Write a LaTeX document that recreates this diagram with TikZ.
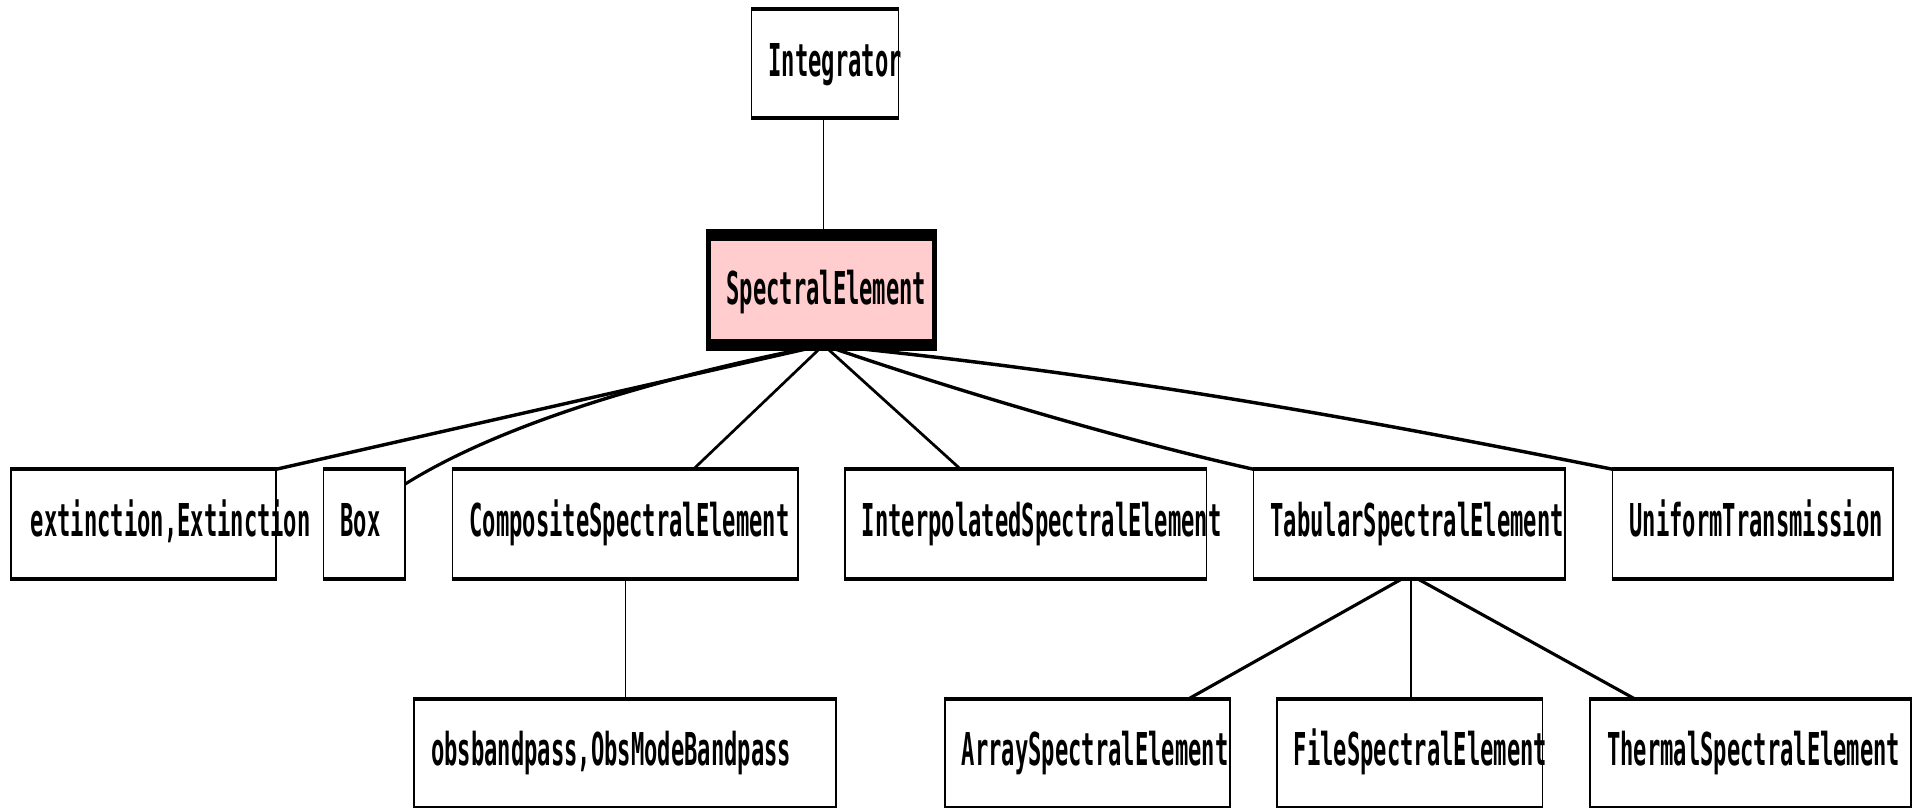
\documentclass[tikz,border=0pt]{standalone}
\usepackage{fontspec}
\usepackage{graphicx}
\usetikzlibrary{calc}
\newfontfamily\classfont{DejaVu Sans Mono}
\definecolor{focuspink}{RGB}{255,205,205}
% class label: fixed-width box, text starts after a small pad and may run past the border
\newcommand\boxlabel[3][17]{\makebox[#2pt][l]{\hspace{#1pt}\scalebox{1.223}[1]{#3}}}
\tikzset{
  cls/.style={rectangle, draw=black, fill=white, line width=1.6pt,
    inner sep=0pt, outer sep=0pt, minimum height=44pt,
    text height=10pt, text depth=0pt,
    font=\classfont\bfseries\fontsize{18.1pt}{20pt}\selectfont},
  focus/.style={cls, fill=focuspink, line width=4.8pt, text height=12pt},
  link/.style={draw=black, line width=1.4pt},
}
\begin{document}
\begin{tikzpicture}
\path[use as bounding box, fill=white] (0pt,0pt) rectangle (1915pt,-808pt);
% the whole diagram is drawn squashed and then stretched vertically
\begin{scope}[transform canvas={yscale=2.5}, x=1pt, y=-0.4pt]
  % top
  \node[cls, minimum width=147pt, minimum height=43.8pt] (integ) at (825,63.75) {\boxlabel{147}{Integrator}};
  \node[focus, minimum width=226.2pt] (spec) at (821.5,290) {\boxlabel[18]{226.2}{SpectralElement}};
  % subclasses
  \node[cls, minimum width=265.4pt] (ext)    at (143.5,524.25)  {\boxlabel[20]{265.4}{extinction,Extinction}};
  \node[cls, minimum width=81.4pt]  (boxcls) at (364.2,524.25)  {\boxlabel{81.4}{Box}};
  \node[cls, minimum width=345.7pt] (comp)   at (625.35,524.25) {\boxlabel{345.7}{CompositeSpectralElement}};
  \node[cls, minimum width=361.7pt] (interp) at (1025.65,524.25) {\boxlabel{361.7}{InterpolatedSpectralElement}};
  \node[cls, minimum width=311.7pt] (tab)    at (1409.35,524.25) {\boxlabel{311.7}{TabularSpectralElement}};
  \node[cls, minimum width=280.4pt] (unif)   at (1752.7,524.25) {\boxlabel{280.4}{UniformTransmission}};
  % third level
  \node[cls, minimum width=422pt,   minimum height=43.6pt] (obs)   at (625.2,753.5)  {\boxlabel{422}{obsbandpass,ObsModeBandpass}};
  \node[cls, minimum width=285pt,   minimum height=43.6pt] (arr)   at (1087.3,753.5) {\boxlabel{285}{ArraySpectralElement}};
  \node[cls, minimum width=265.7pt, minimum height=43.6pt] (file)  at (1409.65,753.5) {\boxlabel{265.7}{FileSpectralElement}};
  \node[cls, minimum width=320.6pt, minimum height=43.6pt] (therm) at (1750.4,753.5) {\boxlabel{320.6}{ThermalSpectralElement}};

  % connectors
  \coordinate (integfoot) at ($(integ.south)+(-1.4,0)$);
  \draw[link] (integfoot) -- (integfoot |- spec.north);

  \coordinate (hub) at ($(spec.south)+(2,0)$);
  \draw[link] (hub) -- (ext.north east);
  \draw[link] (hub) .. controls +(-140,27) and +(105,-66) .. ($(boxcls.north east)+(0,15)$);
  \draw[link] (hub) -- ($(comp.north)+(68,0)$);
  \draw[link] (hub) -- ($(interp.north)+(-65,0)$);
  \draw[link] (hub) .. controls +(130,45) and +(-130,-29) .. (tab.north west);
  \draw[link] (hub) .. controls +(300,30) and +(-240,-48) .. (unif.north west);

  \draw[link] (comp.south) -- (comp.south |- obs.north);

  \coordinate (tabfoot) at ($(tab.south)+(1.6,0)$);
  \draw[link] (tabfoot) -- (tabfoot |- file.north);
  \draw[link] ($(tab.south)+(-8,0)$) -- ($(arr.north)+(101,0)$);
  \draw[link] ($(tab.south)+(9,0)$) -- ($(therm.north)+(-115.4,0)$);
\end{scope}
\end{tikzpicture}
\end{document}
